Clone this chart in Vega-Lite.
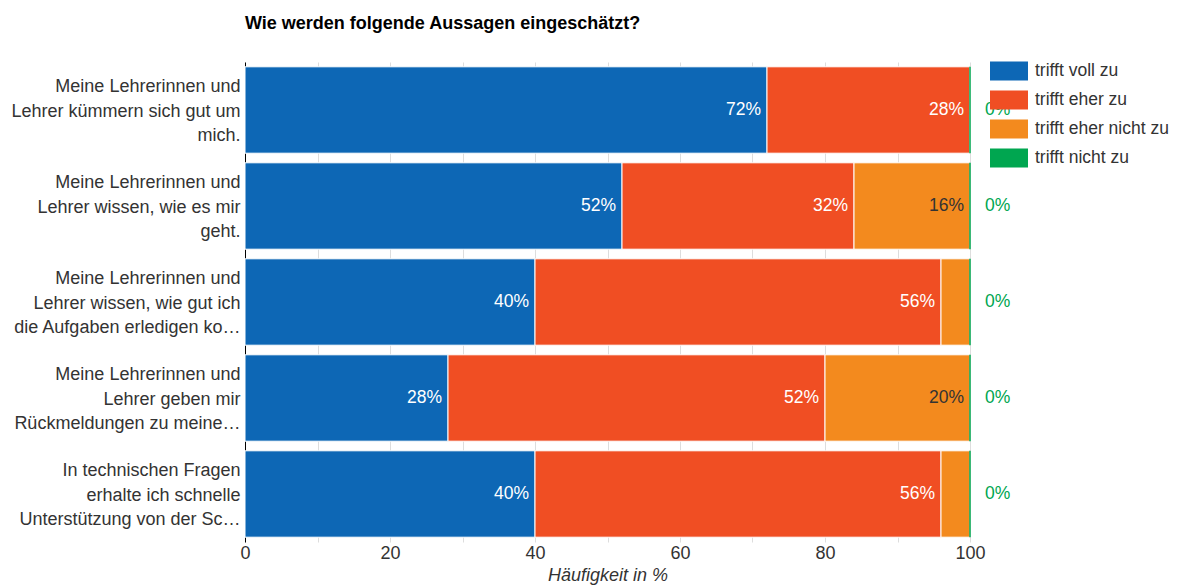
{
  "$schema": "https://vega.github.io/schema/vega-lite/v6.json",
  "autosize": {"type": "none"},
  "padding": {"left": 245, "top": 62, "right": 209, "bottom": 46},
  "width": 725,
  "height": 480,
  "background": "white",
  "config": {
    "font": "Liberation Sans",
    "view": {"stroke": null}
  },
  "title": {
    "text": "Wie werden folgende Aussagen eingeschätzt?",
    "anchor": "start",
    "frame": "group",
    "fontSize": 18,
    "fontWeight": "bold",
    "color": "#000",
    "offset": 19
  },
  "data": {
    "values": [
      {"q": "Meine Lehrerinnen und|Lehrer kümmern sich gut um|mich.", "qi": 1, "cat": "trifft voll zu", "ord": 1, "value": 72},
      {"q": "Meine Lehrerinnen und|Lehrer kümmern sich gut um|mich.", "qi": 1, "cat": "trifft eher zu", "ord": 2, "value": 28},
      {"q": "Meine Lehrerinnen und|Lehrer kümmern sich gut um|mich.", "qi": 1, "cat": "trifft eher nicht zu", "ord": 3, "value": 0},
      {"q": "Meine Lehrerinnen und|Lehrer kümmern sich gut um|mich.", "qi": 1, "cat": "trifft nicht zu", "ord": 4, "value": 0},
      {"q": "Meine Lehrerinnen und|Lehrer wissen, wie es mir|geht.", "qi": 2, "cat": "trifft voll zu", "ord": 1, "value": 52},
      {"q": "Meine Lehrerinnen und|Lehrer wissen, wie es mir|geht.", "qi": 2, "cat": "trifft eher zu", "ord": 2, "value": 32},
      {"q": "Meine Lehrerinnen und|Lehrer wissen, wie es mir|geht.", "qi": 2, "cat": "trifft eher nicht zu", "ord": 3, "value": 16},
      {"q": "Meine Lehrerinnen und|Lehrer wissen, wie es mir|geht.", "qi": 2, "cat": "trifft nicht zu", "ord": 4, "value": 0},
      {"q": "Meine Lehrerinnen und|Lehrer wissen, wie gut ich|die Aufgaben erledigen ko…", "qi": 3, "cat": "trifft voll zu", "ord": 1, "value": 40},
      {"q": "Meine Lehrerinnen und|Lehrer wissen, wie gut ich|die Aufgaben erledigen ko…", "qi": 3, "cat": "trifft eher zu", "ord": 2, "value": 56},
      {"q": "Meine Lehrerinnen und|Lehrer wissen, wie gut ich|die Aufgaben erledigen ko…", "qi": 3, "cat": "trifft eher nicht zu", "ord": 3, "value": 4},
      {"q": "Meine Lehrerinnen und|Lehrer wissen, wie gut ich|die Aufgaben erledigen ko…", "qi": 3, "cat": "trifft nicht zu", "ord": 4, "value": 0},
      {"q": "Meine Lehrerinnen und|Lehrer geben mir|Rückmeldungen zu meine…", "qi": 4, "cat": "trifft voll zu", "ord": 1, "value": 28},
      {"q": "Meine Lehrerinnen und|Lehrer geben mir|Rückmeldungen zu meine…", "qi": 4, "cat": "trifft eher zu", "ord": 2, "value": 52},
      {"q": "Meine Lehrerinnen und|Lehrer geben mir|Rückmeldungen zu meine…", "qi": 4, "cat": "trifft eher nicht zu", "ord": 3, "value": 20},
      {"q": "Meine Lehrerinnen und|Lehrer geben mir|Rückmeldungen zu meine…", "qi": 4, "cat": "trifft nicht zu", "ord": 4, "value": 0},
      {"q": "In technischen Fragen|erhalte ich schnelle|Unterstützung von der Sc…", "qi": 5, "cat": "trifft voll zu", "ord": 1, "value": 40},
      {"q": "In technischen Fragen|erhalte ich schnelle|Unterstützung von der Sc…", "qi": 5, "cat": "trifft eher zu", "ord": 2, "value": 56},
      {"q": "In technischen Fragen|erhalte ich schnelle|Unterstützung von der Sc…", "qi": 5, "cat": "trifft eher nicht zu", "ord": 3, "value": 4},
      {"q": "In technischen Fragen|erhalte ich schnelle|Unterstützung von der Sc…", "qi": 5, "cat": "trifft nicht zu", "ord": 4, "value": 0}
    ]
  },
  "transform": [
    {"stack": "value", "groupby": ["q"], "sort": [{"field": "ord", "order": "ascending"}], "as": ["v0", "v1"]},
    {"calculate": "datum.value + '%'", "as": "lbl"}
  ],
  "encoding": {
    "y": {
      "field": "q",
      "type": "nominal",
      "sort": {"field": "qi", "op": "min", "order": "ascending"},
      "scale": {"paddingInner": 0.1, "paddingOuter": 0.05},
      "axis": {
        "title": null,
        "labelExpr": "split(datum.label, '|')",
        "labelFontSize": 18,
        "labelColor": "#333",
        "labelLineHeight": 24.5,
        "labelOffset": -23,
        "labelPadding": 5,
        "labelLimit": 300,
        "ticks": false,
        "domain": true,
        "domainColor": "#000",
        "domainWidth": 1
      }
    }
  },
  "layer": [
    {
      "mark": {"type": "bar", "strokeWidth": 1},
      "encoding": {
        "x": {
          "field": "v0",
          "type": "quantitative",
          "scale": {"domain": [0, 100], "nice": false},
          "axis": {
            "title": "Häufigkeit in %",
            "titleFontStyle": "italic",
            "titleFontWeight": "normal",
            "titleFontSize": 18,
            "titleColor": "#333",
            "titlePadding": 4,
            "values": [0, 10, 20, 30, 40, 50, 60, 70, 80, 90, 100],
            "labelExpr": "datum.value % 20 === 0 ? datum.label : ''",
            "gridColor": "#ddd",
            "labelFontSize": 18,
            "labelColor": "#333",
            "labelPadding": 2,
            "ticks": false,
            "domain": false,
            "labelFlush": false
          }
        },
        "x2": {"field": "v1"},
        "color": {
          "field": "cat",
          "type": "nominal",
          "sort": ["trifft voll zu", "trifft eher zu", "trifft eher nicht zu", "trifft nicht zu"],
          "scale": {
            "domain": ["trifft voll zu", "trifft eher zu", "trifft eher nicht zu", "trifft nicht zu"],
            "range": ["#0d67b5", "#f04e23", "#f38a1e", "#00a650"]
          },
          "legend": {
            "title": null,
            "orient": "none",
            "legendX": 745,
            "legendY": -10,
            "symbolType": "M-1,-0.5H1V0.5H-1Z",
            "symbolSize": 1444,
            "symbolStrokeWidth": 0,
            "labelFontSize": 17.5,
            "labelColor": "#333",
            "labelOffset": 7,
            "rowPadding": -7
          }
        },
        "stroke": {
          "condition": {"test": "datum.cat === 'trifft nicht zu'", "value": "#00a650"},
          "value": "white"
        },
        "order": {"field": "ord"}
      }
    },
    {
      "transform": [{"filter": "datum.cat !== 'trifft nicht zu' && datum.value > 5"}],
      "mark": {"type": "text", "align": "right", "baseline": "middle", "dx": -6, "fontSize": 17.5},
      "encoding": {
        "x": {"field": "v1", "type": "quantitative"},
        "text": {"field": "lbl", "type": "nominal"},
        "color": {
          "condition": {"test": "datum.cat === 'trifft eher nicht zu'", "value": "#333"},
          "value": "white"
        }
      }
    },
    {
      "transform": [{"filter": "datum.cat === 'trifft nicht zu'"}],
      "mark": {"type": "text", "align": "left", "baseline": "middle", "dx": 15, "fontSize": 17.5, "color": "#00a650"},
      "encoding": {
        "x": {"field": "v1", "type": "quantitative"},
        "text": {"field": "lbl", "type": "nominal"}
      }
    }
  ]
}
